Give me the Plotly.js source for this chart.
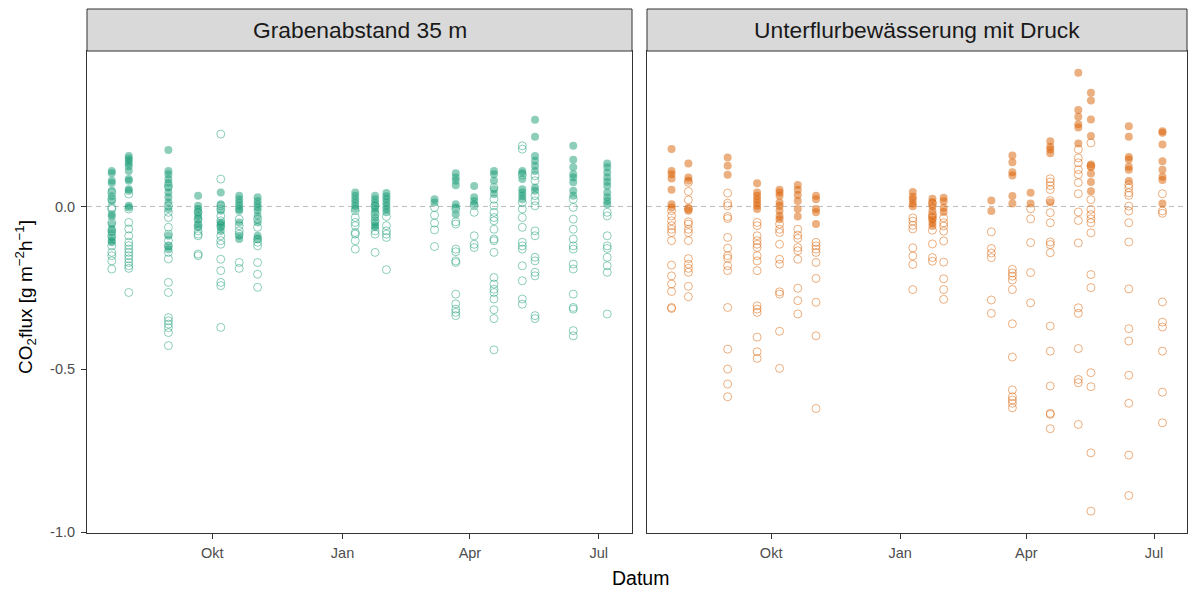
<!DOCTYPE html>
<html>
<head>
<meta charset="utf-8">
<script src="https://cdn.plot.ly/plotly-3.0.1.min.js"></script>
<style>
  html, body { margin: 0; padding: 0; background: #ffffff; }
  #chart { width: 1188px; height: 590px; }
</style>
</head>
<body>
<div id="chart"></div>
<script>
// Measurement campaigns (chamber dates)
const dates = [
  '2016-07-22', '2016-08-03', '2016-08-31', '2016-09-21', '2016-10-07', '2016-10-20',
  '2016-11-02', '2017-01-10', '2017-01-24', '2017-02-01', '2017-03-07', '2017-03-22',
  '2017-04-04', '2017-04-18', '2017-05-08', '2017-05-17', '2017-06-13', '2017-07-07'
];

const panelTitles = ['Grabenabstand 35 m', 'Unterflurbewässerung mit Druck'];

const monthTicks = ['2016-10-01', '2017-01-01', '2017-04-01', '2017-07-01'];
const monthLabels = ['Okt', 'Jan', 'Apr', 'Jul'];

const fluxTicks = [-1.0, -0.5, 0.0];
const fluxLabels = ['-1.0', '-0.5', '0.0'];

// Grabenabstand 35 m: dark-chamber fluxes (filled), one list per date
const recoGraben = [
  [0.109, 0.102, 0.079, 0.072, 0.048, 0.031, 0.017, -0.024, -0.031, -0.054, -0.07, -0.08, -0.095, -0.105, -0.11],
  [0.155, 0.147, 0.14, 0.132, 0.123, 0.109, 0.084, 0.079, 0.053, 0.048, 0.002, -0.003],
  [0.173, 0.109, 0.099, 0.084, 0.072, 0.058, 0.043, 0.028, 0.012, -0.008, -0.09, -0.121, -0.131],
  [0.033, 0.002, -0.008, -0.018, -0.029, -0.039, -0.054, -0.064],
  [0.043, 0.007, -0.013, -0.049, -0.054, -0.064, -0.075],
  [0.033, 0.022, 0.012, 0.002, -0.008, -0.013, -0.049, -0.09, -0.1],
  [0.028, 0.017, 0.007, -0.003, -0.013, -0.029, -0.049, -0.09, -0.1],
  [0.043, 0.033, 0.022, 0.012, 0.002, -0.008],
  [0.033, 0.022, 0.012, 0.002, -0.008, -0.018, -0.034, -0.049, -0.059, -0.064],
  [0.041, 0.031, 0.022, 0.012, 0.002, -0.008, -0.018],
  [0.022, 0.012],
  [0.102, 0.089, 0.079, 0.065, 0.007, -0.003, -0.024],
  [0.063, 0.028, 0.017, 0.007],
  [0.109, 0.099, 0.079, 0.053, 0.038],
  [0.109, 0.102, 0.084, 0.053, 0.043, 0.033, 0.022],
  [0.266, 0.214, 0.155, 0.14, 0.125, 0.109, 0.058, 0.048],
  [0.186, 0.143, 0.12, 0.099, 0.089, 0.074, 0.048, 0.033],
  [0.132, 0.12, 0.104, 0.089, 0.076, 0.063, 0.043, 0.028, 0.017, 0.007]
];

// Grabenabstand 35 m: light-chamber fluxes (open)
const neeGraben = [
  [0.043, 0.022, -0.003, -0.008, -0.049, -0.075, -0.09, -0.121, -0.141, -0.151, -0.167, -0.192],
  [0.038, -0.008, -0.049, -0.069, -0.09, -0.11, -0.12, -0.131, -0.141, -0.151, -0.161, -0.172, -0.182, -0.19, -0.264],
  [0.063, 0.002, -0.018, -0.034, -0.064, -0.085, -0.105, -0.121, -0.141, -0.161, -0.233, -0.264, -0.341, -0.351, -0.361, -0.372, -0.387, -0.427],
  [-0.018, -0.039, -0.059, -0.075, -0.085, -0.09, -0.146, -0.151],
  [0.222, 0.084, 0.002, -0.008, -0.029, -0.044, -0.059, -0.09, -0.105, -0.116, -0.162, -0.197, -0.233, -0.243, -0.371],
  [-0.039, -0.059, -0.075, -0.085, -0.172, -0.19],
  [-0.039, -0.064, -0.1, -0.11, -0.121, -0.172, -0.208, -0.248],
  [-0.013, -0.034, -0.049, -0.059, -0.08, -0.085, -0.105, -0.131],
  [0.002, -0.024, -0.044, -0.075, -0.085, -0.141],
  [-0.031, -0.059, -0.075, -0.085, -0.095, -0.194],
  [-0.003, -0.027, -0.051, -0.072, -0.123],
  [-0.008, -0.047, -0.054, -0.131, -0.139, -0.167, -0.172, -0.269, -0.299, -0.315, -0.325, -0.335],
  [0.002, -0.018, -0.09, -0.116, -0.126],
  [0.058, 0.022, 0.002, -0.018, -0.034, -0.044, -0.07, -0.1, -0.105, -0.141, -0.218, -0.238, -0.254, -0.264, -0.284, -0.317, -0.344, -0.44],
  [0.186, 0.176, 0.096, 0.012, -0.008, -0.034, -0.064, -0.11, -0.121, -0.131, -0.182, -0.228, -0.284, -0.3],
  [0.094, 0.079, 0.033, 0.017, 0.002, -0.075, -0.09, -0.156, -0.167, -0.202, -0.213, -0.335, -0.344],
  [0.022, -0.003, -0.039, -0.07, -0.1, -0.121, -0.131, -0.177, -0.192, -0.269, -0.31, -0.315, -0.381, -0.397],
  [-0.018, -0.029, -0.09, -0.121, -0.129, -0.156, -0.182, -0.202, -0.33]
];

// Unterflurbewässerung mit Druck: dark-chamber fluxes (filled)
const recoUnterflur = [
  [0.176, 0.109, 0.099, 0.086, 0.051, 0.007, -0.003],
  [0.132, 0.089, 0.079, -0.005, -0.013],
  [0.15, 0.125, 0.097],
  [0.071, 0.043, 0.033, 0.022, 0.012, 0.002, -0.008],
  [0.051, 0.043, 0.033, 0.012, 0.002, -0.013, -0.029, -0.039],
  [0.066, 0.051, 0.035, 0.017, -0.008, -0.031],
  [0.033, 0.022, -0.008, -0.018, -0.054],
  [0.044, 0.03, 0.021, 0.009, 0.001],
  [0.024, 0.013, 0.001, -0.014, -0.03, -0.04, -0.05, -0.06],
  [0.027, 0.016, -0.004, -0.017],
  [0.018, -0.014],
  [0.156, 0.136, 0.105, 0.095, 0.032, 0.009],
  [0.042, 0.009],
  [0.2, 0.183, 0.175, 0.163, 0.013],
  [0.41, 0.296, 0.275, 0.252, 0.242, 0.193],
  [0.349, 0.325, 0.267, 0.216, 0.129, 0.122, 0.101, 0.075, 0.047],
  [0.246, 0.214, 0.152, 0.144, 0.122, 0.113, 0.078],
  [0.231, 0.226, 0.19, 0.139, 0.113, 0.091, 0.081, 0.009]
];

// Unterflurbewässerung mit Druck: light-chamber fluxes (open)
const neeUnterflur = [
  [-0.013, -0.029, -0.044, -0.059, -0.07, -0.08, -0.105, -0.18, -0.213, -0.238, -0.261, -0.31, -0.313],
  [0.074, 0.046, 0.02, -0.008, -0.047, -0.054, -0.07, -0.08, -0.105, -0.16, -0.177, -0.19, -0.202, -0.245, -0.277],
  [0.041, 0.01, 0.002, -0.031, -0.037, -0.095, -0.128, -0.151, -0.159, -0.182, -0.197, -0.31, -0.438, -0.499, -0.545, -0.584],
  [-0.049, -0.059, -0.09, -0.105, -0.116, -0.126, -0.151, -0.167, -0.197, -0.305, -0.315, -0.325, -0.401, -0.446, -0.466],
  [-0.054, -0.07, -0.08, -0.116, -0.162, -0.177, -0.262, -0.269, -0.383, -0.497],
  [-0.07, -0.088, -0.098, -0.126, -0.136, -0.162, -0.251, -0.289, -0.33],
  [-0.11, -0.121, -0.131, -0.141, -0.172, -0.221, -0.294, -0.397, -0.62],
  [-0.035, -0.045, -0.058, -0.069, -0.127, -0.152, -0.178, -0.255],
  [0.009, -0.025, -0.035, -0.073, -0.115, -0.157, -0.168],
  [-0.035, -0.05, -0.06, -0.076, -0.106, -0.171, -0.222, -0.255, -0.285],
  [-0.078, -0.129, -0.143, -0.157, -0.287, -0.328],
  [-0.193, -0.204, -0.214, -0.226, -0.255, -0.36, -0.462, -0.563, -0.584, -0.594, -0.604, -0.618],
  [-0.007, -0.038, -0.111, -0.203, -0.296],
  [0.085, 0.075, 0.064, 0.052, 0.018, -0.019, -0.05, -0.109, -0.117, -0.142, -0.367, -0.444, -0.551, -0.635, -0.638, -0.682],
  [0.175, 0.149, 0.134, 0.113, 0.098, 0.073, 0.039, -0.017, -0.043, -0.112, -0.311, -0.328, -0.436, -0.531, -0.541, -0.669],
  [0.195, 0.124, 0.021, -0.009, -0.025, -0.038, -0.05, -0.081, -0.209, -0.249, -0.51, -0.553, -0.756, -0.935],
  [0.067, 0.057, 0.042, 0.034, 0.001, -0.014, -0.05, -0.109, -0.253, -0.375, -0.413, -0.518, -0.604, -0.763, -0.887],
  [0.039, -0.014, -0.021, -0.293, -0.355, -0.37, -0.444, -0.57, -0.664]
];

const GREEN = 'rgba(27,158,119,0.5)';
const ORANGE = 'rgba(217,95,2,0.5)';

// Expand per-date lists into flat x/y arrays
function flatten(groups) {
  const x = [], y = [];
  groups.forEach((vals, i) => {
    vals.forEach(v => { x.push(dates[i]); y.push(v); });
  });
  return { x, y };
}

function pointTrace(groups, color, filled, xa, ya) {
  const d = flatten(groups);
  return {
    type: 'scatter', mode: 'markers',
    x: d.x, y: d.y, xaxis: xa, yaxis: ya,
    hoverinfo: 'skip',
    marker: filled
      ? { symbol: 'circle', size: 8, color: color, line: { width: 0 } }
      : { symbol: 'circle-open', size: 8, color: color, line: { width: 1, color: color } }
  };
}

const traces = [
  pointTrace(neeGraben, GREEN, false, 'x', 'y'),
  pointTrace(recoGraben, GREEN, true, 'x', 'y'),
  pointTrace(neeUnterflur, ORANGE, false, 'x2', 'y2'),
  pointTrace(recoUnterflur, ORANGE, true, 'x2', 'y2')
];

const FRAME = '#333333';
const TICKTXT = '#4D4D4D';
const xRange = ['2016-07-04 12:00', '2017-07-24 12:00'];
const yRange = [-1.002, 0.477];

// plot area in pixels: left 87, right 1187, top 51, bottom 533
const PLOT_W = 1100;
const PLOT_H = 482;

function dateAxis(domain, anchor) {
  return {
    domain: domain, anchor: anchor, type: 'date',
    range: xRange,
    tickmode: 'array', tickvals: monthTicks, ticktext: monthLabels,
    ticks: 'outside', ticklen: 5, tickwidth: 1, tickcolor: FRAME,
    ticklabelstandoff: 2,
    tickfont: { size: 14.5, color: TICKTXT },
    showline: true, mirror: true, linecolor: FRAME, linewidth: 1,
    showgrid: false, zeroline: false, fixedrange: true
  };
}

const stripTop = 1 + 42 / PLOT_H;

function strip(xref, text) {
  return {
    shape: {
      type: 'rect', xref: xref + ' domain', yref: 'paper',
      x0: 0, x1: 1, y0: 1, y1: stripTop,
      fillcolor: '#D9D9D9', line: { color: FRAME, width: 1 }
    },
    label: {
      xref: xref + ' domain', yref: 'paper', x: 0.5, y: (1 + stripTop) / 2,
      xanchor: 'center', yanchor: 'middle', showarrow: false,
      text: text, font: { size: 22.8, color: '#1A1A1A' }
    }
  };
}

function zeroLine(xref, yref) {
  return {
    type: 'line', xref: xref + ' domain', yref: yref,
    x0: 0, x1: 1, y0: 0, y1: 0, layer: 'below',
    line: { color: '#BDBDBD', width: 1, dash: '5px,4px' }
  };
}

const s1 = strip('x', panelTitles[0]);
const s2 = strip('x2', panelTitles[1]);

const layout = {
  width: 1188, height: 590,
  margin: { l: 87, r: 1, t: 51, b: 57 },
  paper_bgcolor: '#ffffff', plot_bgcolor: '#ffffff',
  font: { family: '"Liberation Sans", Arial, sans-serif', color: '#000000' },
  showlegend: false,
  xaxis: dateAxis([0, 545 / PLOT_W], 'y'),
  xaxis2: dateAxis([560 / PLOT_W, 1], 'y2'),
  yaxis: {
    domain: [0, 1], anchor: 'x', range: yRange,
    tickmode: 'array', tickvals: fluxTicks, ticktext: fluxLabels,
    ticks: 'outside', ticklen: 5, tickwidth: 1, tickcolor: FRAME,
    ticklabelstandoff: 3,
    tickfont: { size: 14.5, color: TICKTXT },
    showline: true, mirror: true, linecolor: FRAME, linewidth: 1,
    showgrid: false, zeroline: false, fixedrange: true
  },
  yaxis2: {
    domain: [0, 1], anchor: 'x2', matches: 'y', range: yRange,
    showticklabels: false, ticks: '',
    showline: true, mirror: true, linecolor: FRAME, linewidth: 1,
    showgrid: false, zeroline: false, fixedrange: true
  },
  shapes: [zeroLine('x', 'y'), zeroLine('x2', 'y2'), s1.shape, s2.shape],
  annotations: [
    s1.label, s2.label,
    {
      xref: 'paper', yref: 'paper', x: (640 - 87) / PLOT_W, y: -45 / PLOT_H,
      xanchor: 'center', yanchor: 'middle', showarrow: false,
      text: 'Datum', font: { size: 19.5, color: '#000000' }
    },
    {
      xref: 'paper', yref: 'paper', x: (25 - 87) / PLOT_W, y: (533 - 297) / PLOT_H,
      xanchor: 'center', yanchor: 'middle', showarrow: false, textangle: -90,
      text: 'CO<sub>2</sub>flux [g m<sup>−2</sup>h<sup>−1</sup>]',
      font: { size: 19, color: '#000000' }
    }
  ]
};

Plotly.newPlot('chart', traces, layout, { staticPlot: true, displayModeBar: false });
</script>
</body>
</html>
